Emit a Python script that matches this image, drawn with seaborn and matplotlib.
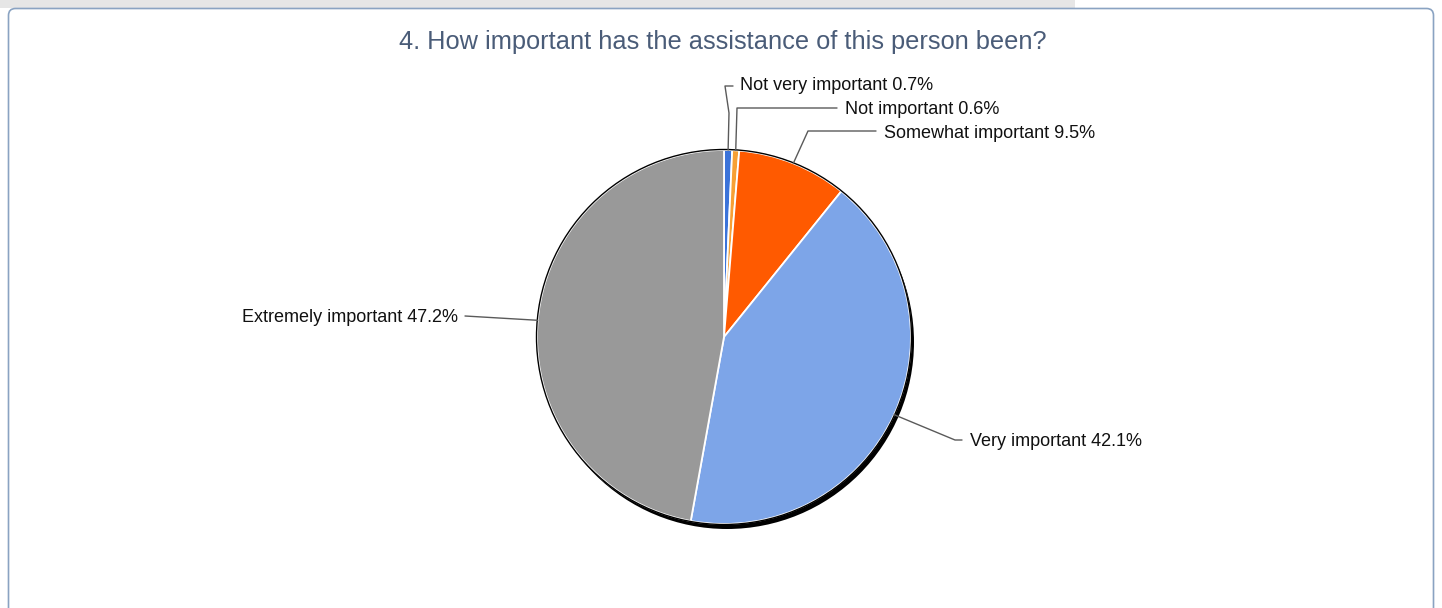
import numpy as np
import matplotlib
matplotlib.use("Agg")
import matplotlib.pyplot as plt
from matplotlib.patches import Circle, FancyBboxPatch, Rectangle
import seaborn as sns

# ---------------------- DATA ----------------------
categories = ["Not very important", "Not important", "Somewhat important",
              "Very important", "Extremely important"]
percents = [0.7, 0.6, 9.5, 42.1, 47.2]
colors = ["#3b73d9", "#f7a035", "#ff5a00", "#7da5e8", "#999999"]
title = "4. How important has the assistance of this person been?"

# layout (pixels, top-left origin)
W, H = 1442, 608
cx, cy, R = 724, 337, 187
# leader elbow points and label anchors
elbows = [[(729, 113), (725, 86), (733, 86)],
          [(737, 108), (837, 108)],
          [(808, 131), (876, 131)],
          [(955, 440), (962, 440)],
          [(465, 316)]]
label_pos = [(740, 86, "left"), (845, 109, "left"), (884, 133, "left"),
             (970, 441, "left"), (458, 318, "right")]

sns.set_theme(style="white")
plt.rcParams["font.family"] = ["Liberation Sans", "DejaVu Sans"]

fig = plt.figure(figsize=(W / 100, H / 100), dpi=100)
ax = fig.add_axes([0, 0, 1, 1])


def Y(y):
    return H - y


# background decorations
ax.add_patch(Rectangle((0, Y(8)), 1075, 8, facecolor="#e6e6e6", edgecolor="none", zorder=0))
ax.add_patch(FancyBboxPatch((8.5, Y(640)), 1425, 631.5,
                            boxstyle="round,pad=0,rounding_size=7",
                            facecolor="white", edgecolor="#8aa3c2", linewidth=1.2, zorder=1))

# shadow behind pie
ax.add_patch(Circle((cx + 3, Y(cy) - 5), R, facecolor="black", edgecolor="none", zorder=2))

wedges, _ = ax.pie(percents, colors=colors, startangle=90, counterclock=False,
                   center=(cx, Y(cy)), radius=R,
                   wedgeprops=dict(edgecolor="white", linewidth=1.3, zorder=3))
for w in wedges:
    w.set_zorder(3)
ax.add_patch(Circle((cx, Y(cy)), R + 0.5, facecolor="none", edgecolor="black",
                    linewidth=1.0, zorder=4))

# leader lines and labels
total = sum(percents)
cum = np.cumsum([0] + percents[:-1])
for i, (cat, p) in enumerate(zip(categories, percents)):
    mid = (cum[i] + p / 2) / total * 2 * np.pi
    ex = cx + R * np.sin(mid)
    ey = cy - R * np.cos(mid)
    pts = [(ex, ey)] + elbows[i]
    xs = [q[0] for q in pts]
    ys = [Y(q[1]) for q in pts]
    ax.plot(xs, ys, color="#5a5a5a", linewidth=1.0, zorder=5)
    tx, ty, ha = label_pos[i]
    ax.text(tx, Y(ty), f"{cat} {p}%", ha=ha, va="center", fontsize=13,
            color="#111111", zorder=6)

ax.text(723, Y(42), title, ha="center", va="center", fontsize=18.3,
        color="#4a5c78", zorder=6)

ax.set_xlim(0, W)
ax.set_ylim(0, H)
ax.set_aspect("equal")
ax.axis("off")

fig.savefig("out.png", dpi=100)
